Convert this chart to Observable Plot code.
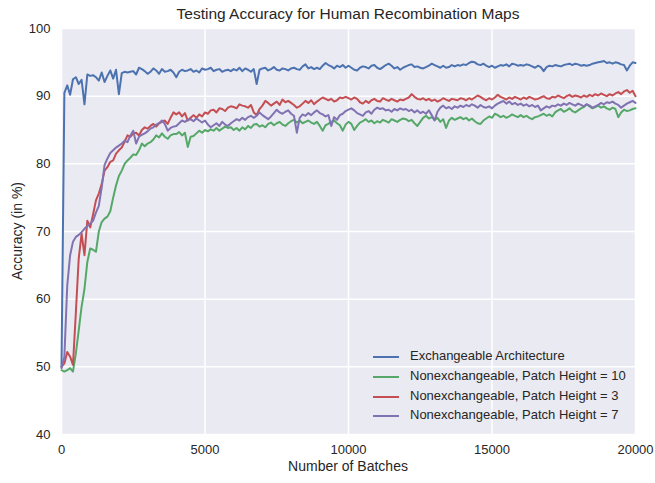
<!DOCTYPE html>
<html>
<head>
<meta charset="utf-8">
<script src="https://cdn.jsdelivr.net/npm/d3@7"></script>
<script src="https://cdn.jsdelivr.net/npm/@observablehq/plot@0.6"></script>
<style>
  html, body { margin: 0; padding: 0; background: #ffffff; }
  #chart { width: 655px; height: 483px; }
  svg { font-family: "Liberation Sans", Arial, sans-serif; }
</style>
</head>
<body>
<div id="chart"></div>
<script>
// ---------- data ----------
const batches = [
  0,100,200,300,400,500,600,700,800,900,
  1000,1100,1200,1300,1400,1500,1600,1700,1800,1900,
  2000,2100,2200,2300,2400,2500,2600,2700,2800,2900,
  3000,3100,3200,3300,3400,3500,3600,3700,3800,3900,
  4000,4100,4200,4300,4400,4500,4600,4700,4800,4900,
  5000,5100,5200,5300,5400,5500,5600,5700,5800,5900,
  6000,6100,6200,6300,6400,6500,6600,6700,6800,6900,
  7000,7100,7200,7300,7400,7500,7600,7700,7800,7900,
  8000,8100,8200,8300,8400,8500,8600,8700,8800,8900,
  9000,9100,9200,9300,9400,9500,9600,9700,9800,9900,
  10000,10100,10200,10300,10400,10500,10600,10700,10800,10900,
  11000,11100,11200,11300,11400,11500,11600,11700,11800,11900,
  12000,12100,12200,12300,12400,12500,12600,12700,12800,12900,
  13000,13100,13200,13300,13400,13500,13600,13700,13800,13900,
  14000,14100,14200,14300,14400,14500,14600,14700,14800,14900,
  15000,15100,15200,15300,15400,15500,15600,15700,15800,15900,
  16000,16100,16200,16300,16400,16500,16600,16700,16800,16900,
  17000,17100,17200,17300,17400,17500,17600,17700,17800,17900,
  18000,18100,18200,18300,18400,18500,18600,18700,18800,18900,
  19000,19100,19200,19300,19400,19500,19600,19700,19800,19900,
  20000
];

const exchangeable = [
  50.0, 90.5, 91.6, 90.2, 92.5, 92.8, 91.8, 92.4, 88.8, 93.2, 93.0, 93.1, 92.8, 92.3, 93.5, 92.1, 93.0, 93.8, 92.6, 93.9,
  90.3, 93.4, 93.6, 93.5, 93.6, 93.7, 93.2, 94.2, 94.0, 93.7, 93.3, 93.6, 94.1, 93.8, 93.3, 94.0, 93.6, 93.7, 93.9, 93.5,
  92.8, 93.6, 93.9, 93.7, 93.8, 94.0, 93.6, 93.8, 93.5, 94.1, 93.9, 94.0, 94.2, 93.7, 93.9, 94.0, 93.6, 93.8, 93.9, 93.7,
  94.0, 93.8, 94.2, 93.7, 94.1, 93.9, 93.6, 94.0, 91.8, 93.9, 94.1, 94.2, 93.8, 94.0, 94.3, 93.9, 93.8, 94.1, 94.0, 93.8,
  94.1, 94.2, 94.0, 93.9, 94.4, 94.7, 94.1, 94.3, 94.0, 94.2, 94.0, 94.5, 94.9, 94.6, 94.4, 94.1, 94.5, 94.3, 94.6, 94.2,
  94.5, 94.2, 93.9, 93.8, 94.2, 94.4, 94.3, 94.1, 94.5, 94.6, 94.2, 94.0, 94.3, 94.6, 94.8, 94.5, 94.1, 94.3, 93.9, 94.2,
  94.4, 94.6, 94.7, 94.3, 94.4, 94.2, 94.1, 94.3, 94.5, 94.8, 94.6, 94.4, 94.2, 94.5, 94.2, 94.3, 94.6, 94.4, 94.6, 94.5,
  94.7, 94.6, 94.9, 95.1, 95.0, 94.7, 94.6, 94.8, 94.5, 94.3, 94.5, 94.2, 94.4, 94.6, 94.5, 94.7, 94.4, 94.8, 94.7, 94.5,
  94.6, 94.5, 94.7, 94.6, 94.4, 94.2, 94.5, 94.3, 93.7, 94.3, 94.5, 94.4, 94.6, 94.5, 94.4, 94.6, 94.7, 94.8, 94.6, 94.8,
  94.7, 94.5, 94.6, 94.5, 94.6, 94.8, 94.9, 95.0, 95.1, 95.2, 94.9, 95.0, 94.8, 95.0, 94.9, 94.7, 94.6, 93.8, 94.5, 95.0,
  94.9
];

const patch10 = [
  49.5, 49.3, 49.5, 49.8, 49.3, 52.0, 55.4, 58.9, 61.5, 65.5, 67.5, 67.3, 67.0, 70.0, 71.4, 71.9, 72.2, 73.0, 75.0, 76.8,
  78.2, 79.0, 80.0, 80.5, 80.9, 81.4, 81.3, 82.0, 83.0, 82.6, 83.0, 83.2, 83.6, 84.2, 83.9, 84.5, 84.0, 83.7, 84.2, 84.4,
  84.4, 84.7, 84.2, 84.6, 82.5, 84.0, 84.1, 84.5, 84.9, 84.6, 85.0, 84.8, 85.1, 84.9, 85.3, 84.9, 85.2, 85.5, 85.3, 85.4,
  85.0, 85.3, 84.9, 85.4, 85.1, 85.6, 85.3, 85.8, 85.9, 85.5, 85.7, 85.4, 85.9, 86.1, 85.7, 86.0, 86.2, 85.8, 85.6, 86.0,
  86.3, 86.5, 86.1, 86.4, 86.0, 86.2, 86.4, 86.1, 85.9, 86.2, 85.6, 84.9, 85.7, 85.9, 86.2, 86.4, 86.0, 85.7, 84.9, 85.8,
  86.2, 85.9, 85.0, 85.6, 86.1, 86.3, 86.6, 86.2, 86.4, 86.0, 86.3, 86.1, 86.5, 86.3, 86.1, 86.6, 86.4, 86.2, 86.5, 86.7,
  86.6, 86.3, 86.5, 86.0, 85.6, 86.2, 86.8, 87.1, 86.7, 86.9, 86.5, 86.8, 86.2, 86.6, 85.3, 86.4, 86.8, 86.5, 86.7, 86.9,
  86.6, 86.8, 86.4, 86.7, 86.3, 86.0, 85.9, 86.4, 86.7, 87.0, 86.8, 87.4, 87.2, 86.9, 87.1, 86.8, 87.0, 87.3, 87.1, 86.9,
  87.2, 86.9, 87.1, 86.8, 86.6, 86.9, 87.0, 87.2, 87.4, 87.1, 87.3, 87.0, 87.6, 87.9, 88.1, 87.7, 87.9, 88.2, 87.8, 87.6,
  87.9, 88.2, 88.4, 88.8, 88.5, 88.2, 88.4, 88.6, 88.3, 88.5, 88.2, 88.0, 88.3, 88.1, 86.9, 87.6, 88.0, 87.8, 87.9, 88.1,
  88.2
];

const patch3 = [
  50.0, 50.5, 52.2, 51.5, 50.3, 58.0, 66.0, 69.7, 66.5, 71.6, 70.6, 72.5, 74.6, 75.6, 77.0, 79.0, 79.5, 80.3, 80.5, 81.5,
  82.0, 82.4, 83.3, 84.2, 84.0, 84.5, 84.6, 84.2, 85.0, 85.4, 85.2, 85.6, 85.9, 85.5, 86.0, 86.2, 86.4, 85.9, 86.8, 87.6,
  87.3, 87.6, 87.0, 87.5, 86.4, 86.8, 87.2, 86.8, 87.3, 87.0, 87.6, 87.4, 87.9, 88.0, 87.6, 88.2, 88.1, 87.8, 88.3, 88.5,
  88.4, 88.2, 88.8, 88.6, 88.5, 88.3, 88.7, 87.6, 87.2, 88.1, 88.6, 89.3, 89.0, 88.6, 88.9, 89.2, 88.7, 89.5, 89.1, 89.3,
  89.0, 88.7, 88.3, 88.5, 88.9, 89.3, 89.0, 89.4, 88.8, 89.2, 89.5, 89.8, 89.6, 89.4, 89.6, 89.2, 89.4, 89.8, 89.7, 89.9,
  89.7, 89.5, 89.8, 89.6, 89.1, 88.9, 89.3, 89.0, 89.4, 89.6, 89.3, 89.2, 89.7, 89.5, 89.3, 89.6, 89.4, 89.2, 89.5, 89.4,
  89.6, 89.8, 90.3, 89.9, 89.6, 89.5, 89.7, 89.4, 89.6, 89.3, 89.5, 89.2, 89.4, 89.7, 89.5, 89.3, 89.6, 89.5, 89.4, 89.7,
  89.6, 89.4, 89.7, 89.5, 89.8, 90.1, 89.9, 89.6, 89.4, 89.7, 89.5, 89.8, 90.2, 89.9, 89.7, 89.5, 89.8, 89.6, 89.9, 89.7,
  89.5, 89.8, 89.6, 89.9, 89.7, 89.5, 89.6, 89.8, 90.0, 89.7, 89.6, 89.9, 89.8, 90.1, 89.9, 89.7, 90.0, 90.2, 89.9, 90.1,
  90.0, 89.8, 90.1, 89.9, 90.2, 90.0, 90.3, 90.1, 90.4, 90.2, 90.0, 90.3, 90.1, 90.4, 90.6, 90.3, 90.7, 90.9, 90.5, 90.8,
  90.0
];

const patch7 = [
  49.8, 51.5, 62.0, 66.5, 68.5, 69.2, 69.5, 69.9, 70.4, 70.8, 71.2, 71.6, 72.8, 73.8, 76.5, 79.8, 80.8, 81.6, 82.0, 82.4,
  82.7, 83.0, 83.4, 83.2, 84.2, 84.9, 83.0, 84.0, 84.3, 84.5, 84.8, 85.2, 85.4, 85.8, 86.0, 86.4, 85.9, 84.9, 85.3, 85.5,
  85.6, 86.0, 86.4, 86.2, 86.5, 86.6, 86.3, 86.7, 86.4, 86.1, 86.4, 85.8, 85.4, 85.7, 86.0, 85.6, 86.2, 85.8, 85.6, 86.0,
  86.3, 86.6, 86.4, 86.8, 86.5, 86.9, 87.1, 86.8, 87.1, 87.6, 87.2, 86.9, 86.6, 87.0, 87.5, 88.0, 87.6, 87.4, 87.7, 87.9,
  87.4, 87.1, 84.6, 86.8, 87.3, 87.1, 87.5, 87.2, 87.6, 87.9, 87.5, 87.3, 87.0, 87.2, 85.6, 86.9, 86.5, 87.2, 87.4, 87.8,
  88.0, 88.2, 87.9, 87.5, 87.3, 87.1, 87.6, 87.8, 87.4, 88.0, 88.3, 88.1, 88.2, 87.9, 88.0, 87.7, 88.1, 87.9, 88.2, 88.0,
  88.1, 87.8, 88.0, 87.6, 87.9, 87.5, 87.7, 87.4, 87.9, 87.2, 86.4, 87.7, 88.3, 88.6, 88.2, 88.4, 88.1, 88.5, 88.3, 88.6,
  88.4, 88.7, 88.5, 88.8, 88.6, 88.3, 88.7, 88.4, 88.3, 88.5, 88.2, 88.6, 88.9, 89.1, 89.3, 88.9, 89.2, 88.8, 89.0, 88.7,
  88.9, 88.6, 88.8, 88.5, 88.7, 88.4, 88.6, 87.9, 88.2, 88.5, 88.3, 88.6, 88.5, 88.8, 88.6, 88.9, 88.7, 89.0, 88.8, 88.6,
  88.9, 88.7, 88.5, 88.8, 88.6, 88.3, 88.5, 88.7, 89.0, 88.8, 89.1, 89.0, 89.2, 88.9, 88.7, 88.3, 88.6, 88.9, 89.1, 89.3,
  89.0
];

const seriesNames = [
  "Exchangeable Architecture",
  "Nonexchangeable, Patch Height = 10",
  "Nonexchangeable, Patch Height = 3",
  "Nonexchangeable, Patch Height = 7"
];
const seriesColors = ["#4C72B0", "#55A868", "#C44E52", "#8172B2"];
const xTicks = [0, 5000, 10000, 15000, 20000];
const yTicks = [40, 50, 60, 70, 80, 90, 100];
const titleText = "Testing Accuracy for Human Recombination Maps";
const xLabel = "Number of Batches";
const yLabel = "Accuracy (in %)";

// ---------- build ----------
const allSeries = [exchangeable, patch10, patch3, patch7];
allSeries.forEach((s, k) => {
  if (s.length !== batches.length) throw new Error("length mismatch in series " + k + ": " + s.length);
});
const rows = [];
allSeries.forEach((vals, k) => {
  vals.forEach((v, i) => rows.push({batch: batches[i], acc: v, series: seriesNames[k]}));
});

const W = 655, H = 483;
const mL = 61, mR = 20, mT = 28, mB = 49;
const textColor = "#262626";

const chart = Plot.plot({
  width: W,
  height: H,
  marginLeft: mL,
  marginRight: mR,
  marginTop: mT,
  marginBottom: mB,
  style: {fontFamily: '"Liberation Sans", Arial, sans-serif', fontSize: "13px", color: textColor, background: "#ffffff"},
  x: {domain: [0, 20000]},
  y: {domain: [40, 100]},
  color: {domain: seriesNames, range: seriesColors},
  marks: [
    Plot.frame({fill: "#EAEAF2", stroke: "none"}),
    Plot.gridX(xTicks, {stroke: "#ffffff", strokeOpacity: 1, strokeWidth: 1.5}),
    Plot.gridY(yTicks, {stroke: "#ffffff", strokeOpacity: 1, strokeWidth: 1.5}),
    Plot.axisX(xTicks, {tickSize: 0, tickPadding: 10, tickFormat: d3.format("d"), label: null, fontSize: 13}),
    Plot.axisY(yTicks, {tickSize: 0, tickPadding: 11, label: null, fontSize: 13}),
    Plot.line(rows, {x: "batch", y: "acc", z: "series", stroke: "series", strokeWidth: 2, strokeLinejoin: "round"})
  ]
});

const svg = d3.select(chart);
svg.append("text")
  .attr("x", (mL + W - mR) / 2).attr("y", 15)
  .attr("text-anchor", "middle").attr("dominant-baseline", "middle")
  .attr("font-size", 15.5).attr("fill", textColor)
  .text(titleText);
svg.append("text")
  .attr("x", (mL + W - mR) / 2).attr("y", 467)
  .attr("text-anchor", "middle").attr("dominant-baseline", "middle")
  .attr("font-size", 14).attr("fill", textColor)
  .text(xLabel);
svg.append("text")
  .attr("transform", `translate(18, ${(mT + H - mB) / 2}) rotate(-90)`)
  .attr("text-anchor", "middle").attr("dominant-baseline", "middle")
  .attr("font-size", 14).attr("fill", textColor)
  .text(yLabel);

const legend = svg.append("g").attr("text-anchor", "start");
const legendRows = [357, 377, 397, 416];
seriesNames.forEach((name, k) => {
  legend.append("line")
    .attr("x1", 373).attr("x2", 399)
    .attr("y1", legendRows[k]).attr("y2", legendRows[k])
    .attr("stroke", seriesColors[k]).attr("stroke-width", 2);
  legend.append("text")
    .attr("x", 410).attr("y", legendRows[k])
    .attr("text-anchor", "start")
    .attr("dominant-baseline", "middle")
    .attr("font-size", 13).attr("fill", textColor)
    .text(name);
});

document.getElementById("chart").appendChild(chart);
</script>
</body>
</html>
